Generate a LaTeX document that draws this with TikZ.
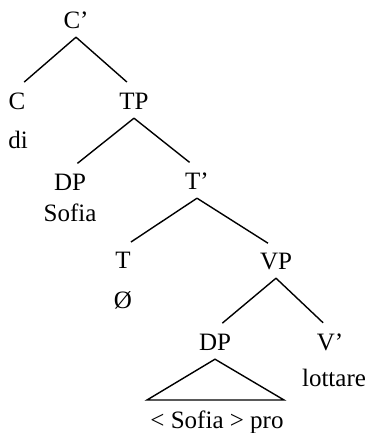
\documentclass[tikz,border=0pt]{standalone}
\usepackage{fontspec}
\setmainfont{Liberation Serif}
\begin{document}
\begin{tikzpicture}[x=1pt,y=1pt,
  lab/.style={inner xsep=0pt,inner ysep=4.25pt,text height=16.5pt,text depth=4.5pt,font=\fontsize{25}{29}\selectfont},
  word/.style={inner sep=0pt,font=\fontsize{25}{29}\selectfont},
  br/.style={line width=1.4pt,shorten >=9.5pt}]
\useasboundingbox (0,0) rectangle (368,433);
\node[lab] (Cbar) at (76,410.75) {C’};
\node[lab] (C) at (17,329.75) {C};
\node[lab] (TP) at (134,329.75) {TP};
\node[word] (di) at (18,293) {di};
\node[lab] (DPa) at (70,248.75) {DP};
\node[lab] (Tbar) at (197,249.75) {T’};
\node[word] (sofia) at (70,220) {Sofia};
\node[lab] (T) at (123,170.75) {T};
\node[lab] (VP) at (276,169.75) {VP};
\node[word] (zero) at (123,133) {Ø};
\node[lab] (DPb) at (215,88.75) {DP};
\node[lab] (Vbar) at (330,88.75) {V’};
\node[word] (lott) at (334,55) {lottare};
\node[word] (pro) at (217,11) {< Sofia > pro};
\coordinate (tl) at (147,33);
\coordinate (tr) at (284,33);
\draw[br] (Cbar.south) -- (C.north);
\draw[br] (Cbar.south) -- (TP.north);
\draw[br] (TP.south) -- (DPa.north);
\draw[br] (TP.south) -- (Tbar.north);
\draw[br] (Tbar.south) -- (T.north);
\draw[br] (Tbar.south) -- (VP.north);
\draw[br] (VP.south) -- (DPb.north);
\draw[br] (VP.south) -- (Vbar.north);
\draw[line width=1.4pt,line join=miter] (DPb.south) -- (tr) -- (tl) -- cycle;
\end{tikzpicture}
\end{document}
